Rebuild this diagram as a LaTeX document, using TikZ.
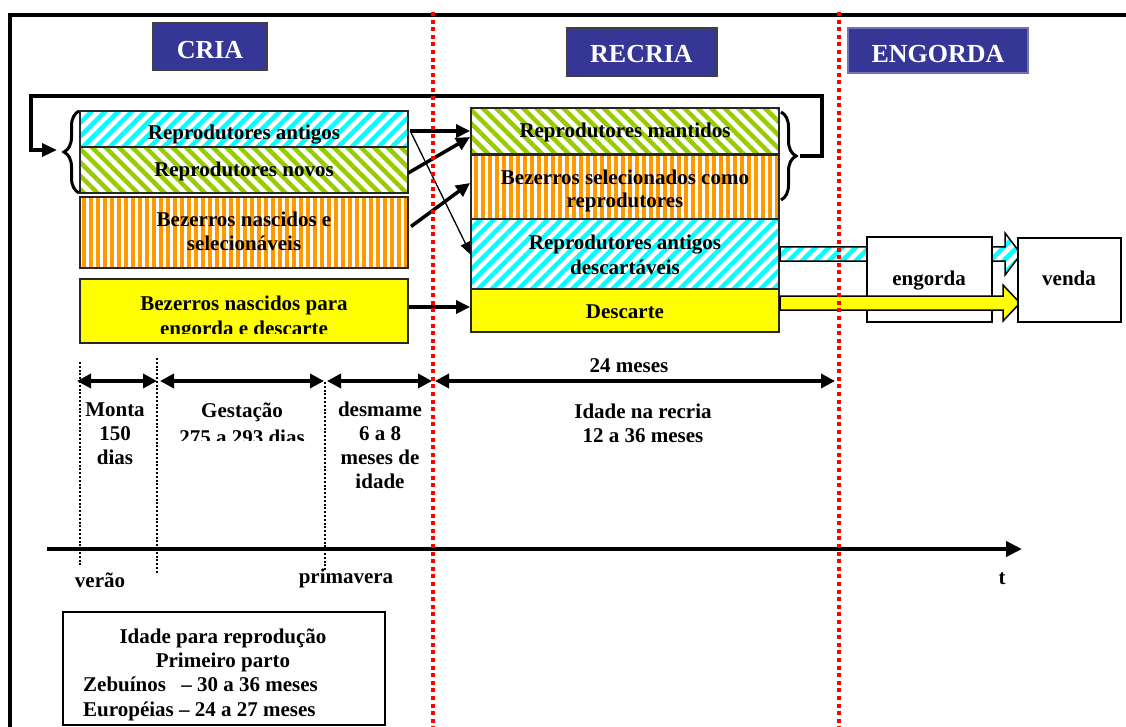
\documentclass[tikz,border=0pt]{standalone}
\usepackage{fontspec}
\setmainfont{Liberation Serif}
\usetikzlibrary{arrows.meta,patterns.meta,decorations.pathreplacing,calc}
\definecolor{hcyan}{RGB}{0,255,255}
\definecolor{hgreen}{RGB}{153,204,0}
\definecolor{horange}{RGB}{255,153,0}
\definecolor{hyellow}{RGB}{255,255,0}
\definecolor{tblue}{RGB}{54,54,150}
\definecolor{rdot}{RGB}{255,0,0}
\begin{document}
\begin{tikzpicture}[x=1pt,y=-1pt,
  every node/.style={font=\fontsize{21}{24}\selectfont\bfseries, inner sep=0pt},
  cellbox/.style={draw=black!85, line width=1.8pt},
  cyanfill/.style={preaction={fill=white}, pattern={Lines[angle=45,distance=9.5pt,line width=4.5pt]}, pattern color=hcyan},
  greenfill/.style={preaction={fill=white}, pattern={Lines[angle=-45,distance=9.5pt,line width=4.5pt]}, pattern color=hgreen},
  orangefill/.style={preaction={fill=white}, pattern={Lines[angle=90,distance=7pt,line width=4pt]}, pattern color=horange},
  yellowfill/.style={fill=hyellow},
  titlebox/.style={fill=tblue, draw=black!75, line width=1.2pt},
  titletext/.style={font=\fontsize{26}{30}\selectfont\bfseries, text=white, anchor=base},
  lbl/.style={anchor=base},
  thickarrow/.style={line width=3.5pt, -{Triangle[length=14pt,width=13pt]}},
  thinarrow/.style={line width=1.3pt, -{Triangle[length=13pt,width=10pt]}},
  dblarrow/.style={line width=3.5pt, {Triangle[length=14pt,width=14pt]}-{Triangle[length=14pt,width=14pt]}},
  bracestyle/.style={decorate, decoration={brace,amplitude=15pt}, line width=3pt},
  blackdots/.style={line width=2.4pt, dash pattern=on 2pt off 1.8pt},
  reddots/.style={draw=rdot, line width=3.8pt, dash pattern=on 4pt off 3.6pt},
  fatarrow/.style={draw=black, line width=1.5pt}
]
\useasboundingbox (0,0) rectangle (1126,727);
\fill[white] (0,0) rectangle (1126,727);

% frame
\draw[line width=4.5pt] (10,740) -- (10,15) -- (1140,15);

% title boxes
\node[titlebox, minimum width=114pt, minimum height=47pt] (criabox) at (210,46.5) {};
\node[titletext] (cria) at (210,59) {CRIA};
\node[titlebox, minimum width=150pt, minimum height=48pt] (recriabox) at (642,52) {};
\node[titletext] (recria) at (641.5,63) {RECRIA};
\node[titlebox, draw=tblue!70, minimum width=180pt, minimum height=45pt] (engbox) at (938,50.5) {};
\node[titletext] (engorda) at (938,63) {ENGORDA};

% feedback loop
\coordinate (fbR) at (800,156);
\coordinate (fbL) at (57,150);
\draw[line width=3.5pt, -{Triangle[length=15pt,width=13pt]}] (fbR) -- (822,156) -- (822,96) -- (31,96) -- (31,150) -- (fbL);

% CRIA column
\node[cellbox, cyanfill, minimum width=328pt, minimum height=36pt] (ra) at (244,129) {};
\node[cellbox, greenfill, minimum width=328pt, minimum height=46pt] (rn) at (244,170) {};
\node[cellbox, orangefill, minimum width=328pt, minimum height=71pt] (bns) at (244,232.5) {};
\node[cellbox, yellowfill, minimum width=328pt, minimum height=64pt] (bne) at (244,311) {};
\node[lbl] (raT) at (244,140) {Reprodutores antigos};
\node[lbl] (rnT) at (244,177) {Reprodutores novos};
\node[lbl] (bnsT1) at (244,227) {Bezerros nascidos e};
\node[lbl] (bnsT2) at (244,251) {selecionáveis};
\begin{scope}
\clip (80,280) rectangle (408,333);
\node[lbl] (bneT1) at (244,310) {Bezerros nascidos para};
\node[lbl] (bneT2) at (244,335) {engorda e descarte};
\end{scope}
\draw[bracestyle] (79,193) -- (79,111);

% RECRIA column
\node[cellbox, greenfill, minimum width=308pt, minimum height=46pt] (rm) at (625,131) {};
\node[cellbox, orangefill, minimum width=308pt, minimum height=64pt] (bsr) at (625,187) {};
\node[cellbox, cyanfill, minimum width=308pt, minimum height=70pt] (rad) at (625,254) {};
\node[cellbox, yellowfill, minimum width=308pt, minimum height=43pt] (desc) at (625,310.5) {};
\node[lbl] (rmT) at (625,138) {Reprodutores mantidos};
\node[lbl] (bsrT1) at (625,185) {Bezerros selecionados como};
\node[lbl] (bsrT2) at (625,208) {reprodutores};
\node[lbl] (radT1) at (625,250) {Reprodutores antigos};
\node[lbl] (radT2) at (625,274) {descartáveis};
\node[lbl] (descT) at (625,318) {Descarte};
\draw[bracestyle] (781,112) -- (781,200);

% arrows between columns
\draw[thickarrow] ($(ra.east)+(0,2)$) -- ($(rm.west)+(0,0)$);
\draw[thickarrow] ($(rn.east)+(-2,3)$) -- ($(rm.west)+(0,6)$);
\draw[thickarrow] ($(bns.east)+(1,-6)$) -- ($(bsr.west)+(0,-4)$);
\draw[thinarrow] ($(ra.east)+(0,2)$) -- ($(rad.west)+(1,1)$);
\coordinate (bneo) at ($(bne.east)+(0,-4)$);
\draw[thickarrow] (bneo) -- (bneo -| desc.west);

% fat arrows and ENGORDA boxes
\draw[fatarrow, cyanfill] (780,247) -- (1005,247) -- (1005,233) -- (1021,254) -- (1005,275) -- (1005,261) -- (780,261) -- cycle;
\node[draw=black, line width=1.8pt, fill=white, minimum width=125pt, minimum height=85pt] (eng) at (929.5,279.5) {};
\node[lbl] (engT) at (929,285) {engorda};
\draw[fatarrow, fill=hyellow] (780,296) -- (1003,296) -- (1003,285) -- (1020,303) -- (1003,321) -- (1003,310) -- (780,310) -- cycle;
\node[draw=black, line width=1.8pt, fill=white, minimum width=103pt, minimum height=84pt] (venda) at (1069.5,280) {};
\node[lbl] (vendaT) at (1069,285) {venda};

% timeline arrows
\coordinate (m0) at (77,381);
\coordinate (m1a) at (157,381);
\coordinate (m1b) at (160,381);
\coordinate (m2a) at (324,381);
\coordinate (m2b) at (327,381);
\coordinate (m3a) at (432,381);
\coordinate (m3b) at (435,381);
\coordinate (m4) at (835,381);
\draw[dblarrow] (m0) -- (m1a);
\draw[dblarrow] (m1b) -- (m2a);
\draw[dblarrow] (m2b) -- (m3a);
\draw[dblarrow] (m3b) -- (m4);

% dotted guides
\coordinate (d0t) at (80,362);  \coordinate (d0b) at (80,567);
\coordinate (d1t) at (157,358); \coordinate (d1b) at (157,573);
\coordinate (d2t) at (325,382); \coordinate (d2b) at (325,570);
\draw[blackdots] (d0t) -- (d0b);
\draw[blackdots] (d1t) -- (d1b);
\draw[blackdots] (d2t) -- (d2b);

% labels
\node[lbl] (l1) at (115,416) {Monta};
\node[lbl] (l2) at (115,440) {150};
\node[lbl] (l3) at (115,464) {dias};
\node[lbl] (g1) at (242,417) {Gestação};
\begin{scope}
\clip (160,420) rectangle (324,440);
\node[lbl] (g2) at (242,444) {275 a 293 dias};
\end{scope}
\node[lbl] (w1) at (380,416) {desmame};
\node[lbl] (w2) at (380,440) {6 a 8};
\node[lbl] (w3) at (380,464) {meses de};
\node[lbl] (w4) at (380,488) {idade};
\node[lbl] (r24) at (629,372) {24 meses};
\node[lbl] (ir1) at (643,418) {Idade na recria};
\node[lbl] (ir2) at (643,442) {12 a 36 meses};

% time axis
\coordinate (ax0) at (47,549);
\coordinate (ax1) at (1022,549);
\draw[line width=4pt, -{Triangle[length=16pt,width=15pt]}] (ax0) -- (ax1);
\node[lbl] (verao) at (100,587) {verão};
\node[lbl] (prim) at (346,583) {primavera};
\node[lbl] (tt) at (1002,584) {t};

% bottom box
\node[draw=black, line width=1.8pt, minimum width=322pt, minimum height=113pt] (agebox) at (224,668.5) {};
\node[lbl] (a1) at (223,643) {Idade para reprodução};
\node[lbl] (a2) at (223,667) {Primeiro parto};
\node[anchor=base west] (a3) at (83,691) {Zebuínos\hspace{10pt} – 30 a 36 meses};
\begin{scope}
\clip (64,695) rectangle (384,720);
\node[anchor=base west] (a4) at (83,716) {Européias – 24 a 27 meses};
\end{scope}

% red phase separators
\coordinate (s1t) at (433,12); \coordinate (s1b) at (433,730);
\coordinate (s2t) at (839,12); \coordinate (s2b) at (839,730);
\draw[reddots] (s1t) -- (s1b);
\draw[reddots] (s2t) -- (s2b);
\end{tikzpicture}
\end{document}
